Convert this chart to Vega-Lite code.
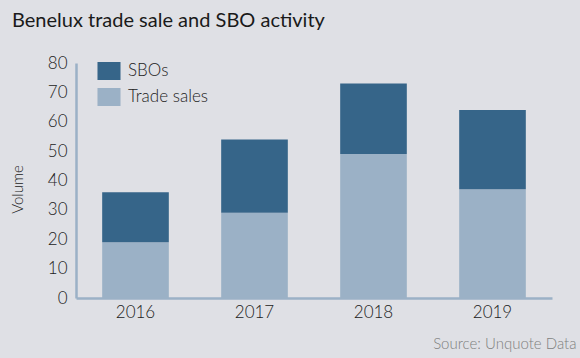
{
  "$schema": "https://vega.github.io/schema/vega-lite/v6.json",
  "autosize": {"type": "none"},
  "width": 476,
  "height": 235,
  "padding": {"left": 76, "top": 63, "right": 28, "bottom": 60},
  "background": "#dfe0e5",
  "title": {
    "text": "Benelux trade sale and SBO activity",
    "anchor": "start",
    "frame": "group",
    "dx": -64,
    "font": "Lato",
    "fontSize": 20,
    "fontWeight": "normal",
    "color": "#1a1a1a",
    "baseline": "alphabetic",
    "offset": 7
  },
  "config": {
    "view": {"stroke": null},
    "font": "Lato"
  },
  "data": {
    "values": [
      {"year": "2016", "type": "Trade sales", "volume": 19},
      {"year": "2016", "type": "SBOs", "volume": 17},
      {"year": "2017", "type": "Trade sales", "volume": 29},
      {"year": "2017", "type": "SBOs", "volume": 25},
      {"year": "2018", "type": "Trade sales", "volume": 49},
      {"year": "2018", "type": "SBOs", "volume": 24},
      {"year": "2019", "type": "Trade sales", "volume": 37},
      {"year": "2019", "type": "SBOs", "volume": 27}
    ]
  },
  "mark": {"type": "bar"},
  "encoding": {
    "x": {
      "field": "year",
      "type": "nominal",
      "scale": {"paddingInner": 0.44, "paddingOuter": 0.22},
      "axis": {
        "title": "Source: Unquote Data",
        "titleFont": "Lato",
        "titleFontSize": 15,
        "titleFontWeight": 300,
        "titleColor": "#808080",
        "titleAlign": "right",
        "titleAnchor": null,
        "titleX": 500,
        "titleY": 50,
        "titleBaseline": "alphabetic",
        "labelAngle": 0,
        "labelFontSize": 17,
        "labelFontWeight": 300,
        "labelColor": "#222",
        "labelPadding": 6,
        "ticks": false,
        "domainColor": "#9bb1c6",
        "domainWidth": 2.5,
        "grid": false
      }
    },
    "y": {
      "field": "volume",
      "type": "quantitative",
      "aggregate": "sum",
      "stack": "zero",
      "scale": {"domain": [0, 80], "nice": false},
      "axis": {
        "title": "Volume",
        "titleFontSize": 15,
        "titleFontWeight": 300,
        "titleColor": "#222",
        "titlePadding": 22,
        "titleY": 126,
        "values": [0, 10, 20, 30, 40, 50, 60, 70, 80],
        "labelFontSize": 17,
        "labelFontWeight": 300,
        "labelColor": "#222",
        "labelPadding": 9,
        "ticks": false,
        "grid": false,
        "domainColor": "#9bb1c6",
        "domainWidth": 2.5
      }
    },
    "color": {
      "field": "type",
      "type": "nominal",
      "scale": {"domain": ["SBOs", "Trade sales"], "range": ["#366589", "#9bb1c6"]},
      "legend": {
        "title": null,
        "orient": "none",
        "legendX": 24,
        "legendY": -1,
        "padding": 0,
        "symbolType": "M-1.28,-1H1.28V1H-1.28Z",
        "symbolSize": 324,
        "symbolStrokeWidth": 0,
        "symbolOpacity": 1,
        "labelFontSize": 17,
        "labelFontWeight": 300,
        "labelColor": "#222",
        "labelOffset": 10,
        "rowPadding": 8
      }
    },
    "order": {"field": "type", "sort": "descending"}
  }
}
